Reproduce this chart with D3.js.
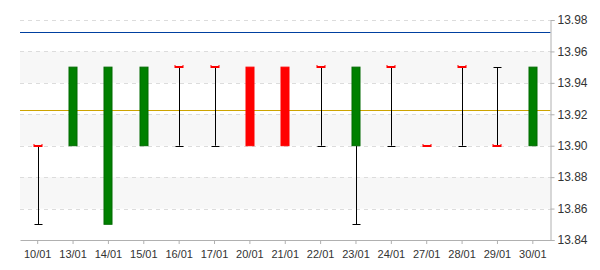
<!DOCTYPE html>
<html>
<head>
<meta charset="utf-8">
<script src="https://cdn.jsdelivr.net/npm/d3@7"></script>
<style>
  body { margin: 0; background: #fff; }
  text { font-family: "Liberation Sans", Arial, sans-serif; }
</style>
</head>
<body>
<div id="chart"></div>
<script>
const MARGIN = { TOP: 20, BOTTOM: 30, LEFT: 20, RIGHT: 49.5 }
const WIDTH = 600 - MARGIN.LEFT - MARGIN.RIGHT
const HEIGHT = 270 - MARGIN.TOP - MARGIN.BOTTOM

const dates = ["10/01", "13/01", "14/01", "15/01", "16/01", "17/01", "20/01", "21/01",
  "22/01", "23/01", "24/01", "27/01", "28/01", "29/01", "30/01"]
const opens  = [13.90, 13.90, 13.85, 13.90, 13.95, 13.95, 13.95, 13.95, 13.95, 13.90, 13.95, 13.90, 13.95, 13.90, 13.90]
const closes = [13.90, 13.95, 13.95, 13.95, 13.95, 13.95, 13.90, 13.90, 13.95, 13.95, 13.95, 13.90, 13.95, 13.90, 13.95]
const highs  = [13.90, 13.95, 13.95, 13.95, 13.95, 13.95, 13.95, 13.95, 13.95, 13.95, 13.95, 13.90, 13.95, 13.95, 13.95]
const lows   = [13.85, 13.90, 13.85, 13.90, 13.90, 13.90, 13.90, 13.90, 13.90, 13.85, 13.90, 13.90, 13.90, 13.90, 13.90]
const yTicks = [13.84, 13.86, 13.88, 13.90, 13.92, 13.94, 13.96, 13.98]
const blueLevel = 13.9725
const goldLevel = 13.9225

const svg = d3.select("#chart").append("svg")
  .attr("width", 600)
  .attr("height", 270)

const g = svg.append("g")
  .attr("transform", `translate(${MARGIN.LEFT}, ${MARGIN.TOP})`)

const x = d3.scaleBand().domain(dates).range([0, WIDTH]).padding(0)
const y = d3.scaleLinear().domain([13.84, 13.98]).range([HEIGHT, 0])
const py = v => Math.round(y(v)) + 0.5

// alternating bands
for (let i = 0; i < yTicks.length - 1; i++) {
  if ((i % 2) === 1) {
    g.append("rect")
      .attr("x", 0).attr("width", WIDTH)
      .attr("y", y(yTicks[i + 1])).attr("height", y(yTicks[i]) - y(yTicks[i + 1]))
      .attr("fill", "#f7f7f7")
  }
}

// grid
g.selectAll(".grid").data(yTicks.slice(1)).enter().append("line")
  .attr("x1", 0).attr("x2", WIDTH)
  .attr("y1", d => py(d)).attr("y2", d => py(d))
  .attr("stroke", "#dcdcdc").attr("stroke-dasharray", "4,4")

// reference lines
g.append("line")
  .attr("x1", 0).attr("x2", WIDTH)
  .attr("y1", py(blueLevel)).attr("y2", py(blueLevel))
  .attr("stroke", "#0040a0").attr("stroke-width", 1.2)
g.append("line")
  .attr("x1", 0).attr("x2", WIDTH)
  .attr("y1", py(goldLevel)).attr("y2", py(goldLevel))
  .attr("stroke", "#cca300").attr("stroke-width", 1.2)

// axes
const yAxis = g.append("g")
  .attr("transform", `translate(${WIDTH}, 0)`)
  .call(d3.axisRight(y).tickValues(yTicks).tickFormat(d3.format(".2f")).tickSize(4).tickPadding(3))
const xAxis = g.append("g")
  .attr("transform", `translate(0, ${HEIGHT})`)
  .call(d3.axisBottom(x).tickSize(4).tickPadding(6).tickSizeOuter(0))

yAxis.select(".domain").attr("stroke", "#b0b0b0")
yAxis.selectAll(".tick line").attr("stroke", "#b0b0b0")
yAxis.selectAll("text").attr("font-size", 12).attr("fill", "#333").attr("font-family", "Liberation Sans, Arial, sans-serif")
xAxis.select(".domain").attr("stroke", "#b0b0b0")
xAxis.selectAll(".tick line").attr("stroke", "#b0b0b0")
xAxis.selectAll("text").attr("font-size", 11).attr("fill", "#333").attr("font-family", "Liberation Sans, Arial, sans-serif")

const barW = 9
const capW = 8
const cx = d => Math.round(x(d) + x.bandwidth() / 2) + 0.5

const candles = dates.map((d, i) => ({ date: d, o: opens[i], c: closes[i], h: highs[i], l: lows[i] }))

// wicks
candles.forEach(d => {
  const top = Math.max(d.o, d.c), bot = Math.min(d.o, d.c)
  if (d.h > top) {
    g.append("line").attr("x1", cx(d.date)).attr("x2", cx(d.date))
      .attr("y1", y(d.h)).attr("y2", y(top)).attr("stroke", "#000")
    g.append("line").attr("x1", cx(d.date) - capW / 2).attr("x2", cx(d.date) + capW / 2)
      .attr("y1", py(d.h)).attr("y2", py(d.h)).attr("stroke", "#000")
  }
  if (d.l < bot) {
    g.append("line").attr("x1", cx(d.date)).attr("x2", cx(d.date))
      .attr("y1", y(bot)).attr("y2", y(d.l)).attr("stroke", "#000")
    g.append("line").attr("x1", cx(d.date) - capW / 2).attr("x2", cx(d.date) + capW / 2)
      .attr("y1", py(d.l)).attr("y2", py(d.l)).attr("stroke", "#000")
  }
})

// bodies
candles.forEach(d => {
  const top = Math.max(d.o, d.c), bot = Math.min(d.o, d.c)
  const xc = cx(d.date) - 0.5
  if (d.o === d.c) {
    const yy = Math.round(y(d.o))
    g.append("path")
      .attr("d", `M${xc - 4.5},${yy - 2} v3 h9 v-3 h-1 v1 h-7 v-1 Z`)
      .attr("fill", "#ff0000")
  } else {
    g.append("rect")
      .attr("x", xc - barW / 2 + 0.5).attr("width", barW - 1)
      .attr("y", y(top)).attr("height", y(bot) - y(top))
      .attr("fill", d.c > d.o ? "#008000" : "#ff0000")
      .attr("stroke", d.c > d.o ? "#006a00" : "#ff0000")
      .attr("stroke-width", 1)
  }
})
</script>
</body>
</html>
